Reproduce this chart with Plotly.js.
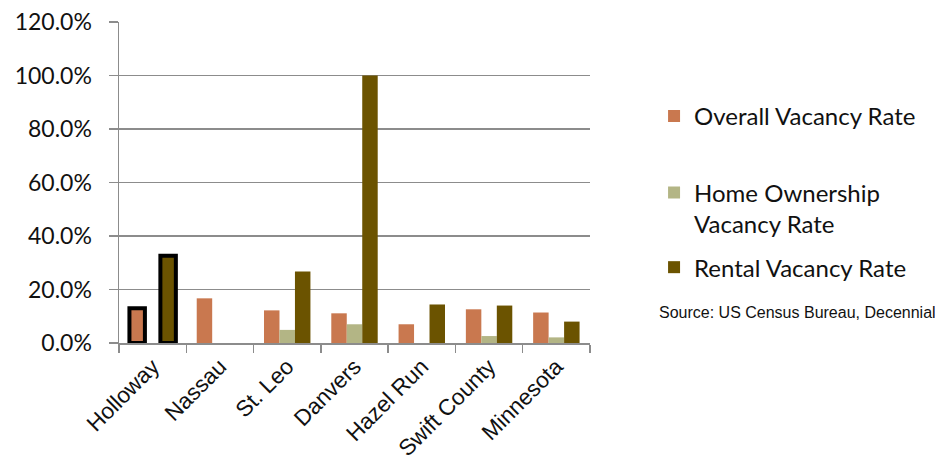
<!DOCTYPE html>
<html><head><meta charset="utf-8">
<script src="https://cdn.plot.ly/plotly-3.0.1.min.js"></script>
<style>body{margin:0;background:#fff}#chart{width:935px;height:467px}</style>
</head><body><div id="chart"></div>
<script>
const categories = ["Holloway","Nassau","St. Leo","Danvers","Hazel Run","Swift County","Minnesota"];
const overallRate = [0.130, 0.167, 0.122, 0.111, 0.070, 0.126, 0.114];
const homeOwnershipRate = [0, 0, 0.049, 0.070, 0, 0.026, 0.021];
const rentalRate = [0.326, 0, 0.267, 1.000, 0.144, 0.140, 0.080];
const yTickVals = [0, 0.2, 0.4, 0.6, 0.8, 1.0, 1.2];
const yTickText = ["0.0%","20.0%","40.0%","60.0%","80.0%","100.0%","120.0%"];
const highlighted = ["Holloway"];

const lineW = categories.map(c => highlighted.includes(c) ? 4 : 0);
const lineC = categories.map(c => highlighted.includes(c) ? "#000" : "rgba(0,0,0,0)");
const FONT = "Lato, 'Open Sans', sans-serif";
const ARIAL = "'Liberation Sans', Arial, sans-serif";

const traces = [
  {type:"bar", name:"Overall Vacancy Rate", x:categories, y:overallRate, showlegend:true,
   marker:{color:"#C9784F", line:{width:lineW, color:lineC}}, legend:"legend"},
  {type:"bar", name:"Home Ownership<br>Vacancy Rate", x:categories, y:homeOwnershipRate, showlegend:true,
   marker:{color:"#B3B585"}, legend:"legend2"},
  {type:"bar", name:"Rental Vacancy Rate", x:categories, y:rentalRate, showlegend:true,
   marker:{color:"#6B5300", line:{width:lineW, color:lineC}}, legend:"legend3"}
];
const legBase = {x:1.136, xanchor:"left", yanchor:"middle", font:{family:FONT, size:24, color:"#111"}, bgcolor:"rgba(0,0,0,0)", valign:"top"};
const layout = {
  width:935, height:467, showlegend:true,
  margin:{l:119, r:345, t:22, b:124},
  paper_bgcolor:"#fff", plot_bgcolor:"#fff",
  barmode:"group", bargap:0.31, bargroupgap:0,
  font:{family:FONT, size:23, color:"#111"},
  xaxis:{type:"category", tickson:"boundaries", ticks:"outside", ticklen:8, tickcolor:"#8c8c8c", tickwidth:1.5,
         showline:true, linecolor:"#8c8c8c", linewidth:1.5, tickangle:-45, showgrid:false,
         tickfont:{family:ARIAL, size:22.5, color:"#111"}},
  yaxis:{range:[0,1.2], tickvals:yTickVals, ticktext:yTickText, ticks:"outside", ticklen:9,
         tickcolor:"#8c8c8c", tickwidth:1.5, showline:true, linecolor:"#8c8c8c", linewidth:1.5,
         showgrid:true, gridcolor:"#8c8c8c", gridwidth:1.5, zeroline:false, ticklabelstandoff:12,
         tickfont:{family:FONT, size:23, color:"#111"}},
  legend:Object.assign({y:0.706}, legBase),
  legend2:Object.assign({y:0.419}, legBase),
  legend3:Object.assign({y:0.235}, legBase),
  annotations:[{xref:"paper", yref:"paper", x:1.0, y:0.095, xanchor:"left", yanchor:"middle", xshift:67,
    text:"Source: US Census Bureau, Decennial", showarrow:false,
    font:{family:ARIAL, size:16, color:"#111"}}]
};
Plotly.newPlot("chart", traces, layout, {displayModeBar:false, staticPlot:true}).then(() => {
  document.querySelectorAll(".legendpoints path").forEach(p => { p.style.strokeWidth = "0px"; });
});
</script></body></html>
